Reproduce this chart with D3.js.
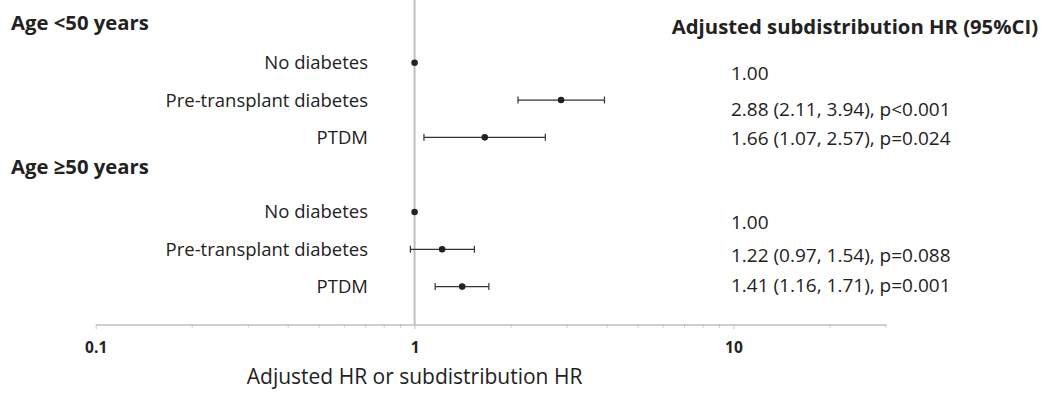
<!DOCTYPE html>
<html>
<head>
<meta charset="utf-8">
<script src="https://cdn.jsdelivr.net/npm/d3@7"></script>
<style>
  body { margin: 0; background: #fff; }
  svg text { font-family: "Open Sans", sans-serif; fill: #222; }
</style>
</head>
<body>
<svg id="chart" width="1048" height="393"></svg>
<script>
/// data
var groups = ["Age <50 years", "Age \u226550 years"];
var categories = ["No diabetes", "Pre-transplant diabetes", "PTDM"];
var hr    = [1.00, 2.88, 1.66, 1.00, 1.22, 1.41];
var lower = [null, 2.11, 1.07, null, 0.97, 1.16];
var upper = [null, 3.94, 2.57, null, 1.54, 1.71];
var pvals = ["", "p<0.001", "p=0.024", "", "p=0.088", "p=0.001"];
var tickLabels = [0.1, 1, 10];
var valueTitle = "Adjusted subdistribution HR (95%CI)";
var axisTitle = "Adjusted HR or subdistribution HR";

/// layout
var svg = d3.select("#chart");
var axisY = 324.5;
var fmt = d3.format(".2f");

var x = d3.scaleLog().domain([0.1, 30]).range([95.7, 885.6]);
// slot 0 = first header, 1-3 rows, 4 = second header, 5-7 rows
var y = d3.scaleLinear().domain([0, 7]).range([25.4, 286.6]);

// build row table
var rows = hr.map(function(v, i) {
  var g = Math.floor(i / 3), k = i % 3;
  return {group: g, label: categories[k], hr: v, lo: lower[i], hi: upper[i],
          p: pvals[i], slot: g * 4 + k + 1};
});

// value text rows sit a little off the marker rows
var valueOffset = [11, 9, 1, 10, 6, -1];
// headers sit a bit above their slot
var headerOffset = [-2.4, -8];

// reference line at 1
svg.append("line")
   .attr("x1", x(1)).attr("x2", x(1))
   .attr("y1", 0).attr("y2", axisY)
   .style("stroke", "#bfbfbf")
   .style("stroke-width", 2);

// axis
var allTicks = x.ticks();
var axis = d3.axisBottom(x)
             .tickValues(allTicks)
             .tickSize(3)
             .tickSizeOuter(0)
             .tickFormat(function(d) { return tickLabels.indexOf(d) >= 0 ? String(d) : ""; });

var AX_G = svg.append("g")
              .attr("transform", "translate(0," + axisY + ")")
              .call(axis);

AX_G.select(".domain").style("stroke", "#bfbfbf").style("stroke-width", 1.5);
AX_G.selectAll(".tick line")
    .style("stroke", "#bfbfbf")
    .attr("y2", function(d) { return tickLabels.indexOf(d) >= 0 ? 4.5 : 3; });
AX_G.selectAll(".tick text")
    .attr("y", 23)
    .attr("dy", "0.35em")
    .style("font-size", "15.5px")
    .style("font-weight", 700)
    .style("fill", "#222");

svg.append("text")
   .attr("x", x(1))
   .attr("y", 384)
   .attr("text-anchor", "middle")
   .style("font-size", "21px")
   .text(axisTitle);

// group headers
svg.selectAll(".groupTitle")
   .data(groups)
   .enter()
   .append("text")
   .attr("class", "groupTitle")
   .attr("x", 11)
   .attr("y", function(d, i) { return y(i * 4) + headerOffset[i]; })
   .attr("dy", "0.35em")
   .style("font-size", "20.3px")
   .style("font-weight", 700)
   .text(function(d) { return d; });

svg.append("text")
   .attr("x", 1038)
   .attr("y", y(0) + 1)
   .attr("dy", "0.35em")
   .attr("text-anchor", "end")
   .style("font-size", "20.3px")
   .style("font-weight", 700)
   .text(valueTitle);

// row labels
svg.selectAll(".rowLabel")
   .data(rows)
   .enter()
   .append("text")
   .attr("class", "rowLabel")
   .attr("x", 368)
   .attr("y", function(d) { return y(d.slot); })
   .attr("dy", "0.35em")
   .attr("text-anchor", "end")
   .style("font-size", "18.5px")
   .text(function(d) { return d.label; });

// whiskers
var ciRows = rows.filter(function(d) { return d.lo !== null; });

svg.selectAll(".ci")
   .data(ciRows)
   .enter()
   .append("line")
   .attr("class", "ci")
   .attr("x1", function(d) { return x(d.lo); })
   .attr("x2", function(d) { return x(d.hi); })
   .attr("y1", function(d) { return y(d.slot); })
   .attr("y2", function(d) { return y(d.slot); })
   .style("stroke", "#333")
   .style("stroke-width", 1.3);

["lo", "hi"].forEach(function(key) {
  svg.selectAll(".cap" + key)
     .data(ciRows)
     .enter()
     .append("line")
     .attr("x1", function(d) { return x(d[key]); })
     .attr("x2", function(d) { return x(d[key]); })
     .attr("y1", function(d) { return y(d.slot) - 3.5; })
     .attr("y2", function(d) { return y(d.slot) + 3.5; })
     .style("stroke", "#333")
     .style("stroke-width", 1.2);
});

// points
svg.selectAll(".pt")
   .data(rows)
   .enter()
   .append("circle")
   .attr("class", "pt")
   .attr("cx", function(d) { return x(d.hr); })
   .attr("cy", function(d) { return y(d.slot); })
   .attr("r", 3.3)
   .style("fill", "#222");

// value text
svg.selectAll(".valText")
   .data(rows)
   .enter()
   .append("text")
   .attr("class", "valText")
   .attr("x", 731)
   .attr("y", function(d, i) { return y(d.slot) + valueOffset[i]; })
   .attr("dy", "0.35em")
   .style("font-size", "19px")
   .text(function(d) {
     if (d.lo === null) return fmt(d.hr);
     return fmt(d.hr) + " (" + fmt(d.lo) + ", " + fmt(d.hi) + "), " + d.p;
   });
</script>
</body>
</html>
